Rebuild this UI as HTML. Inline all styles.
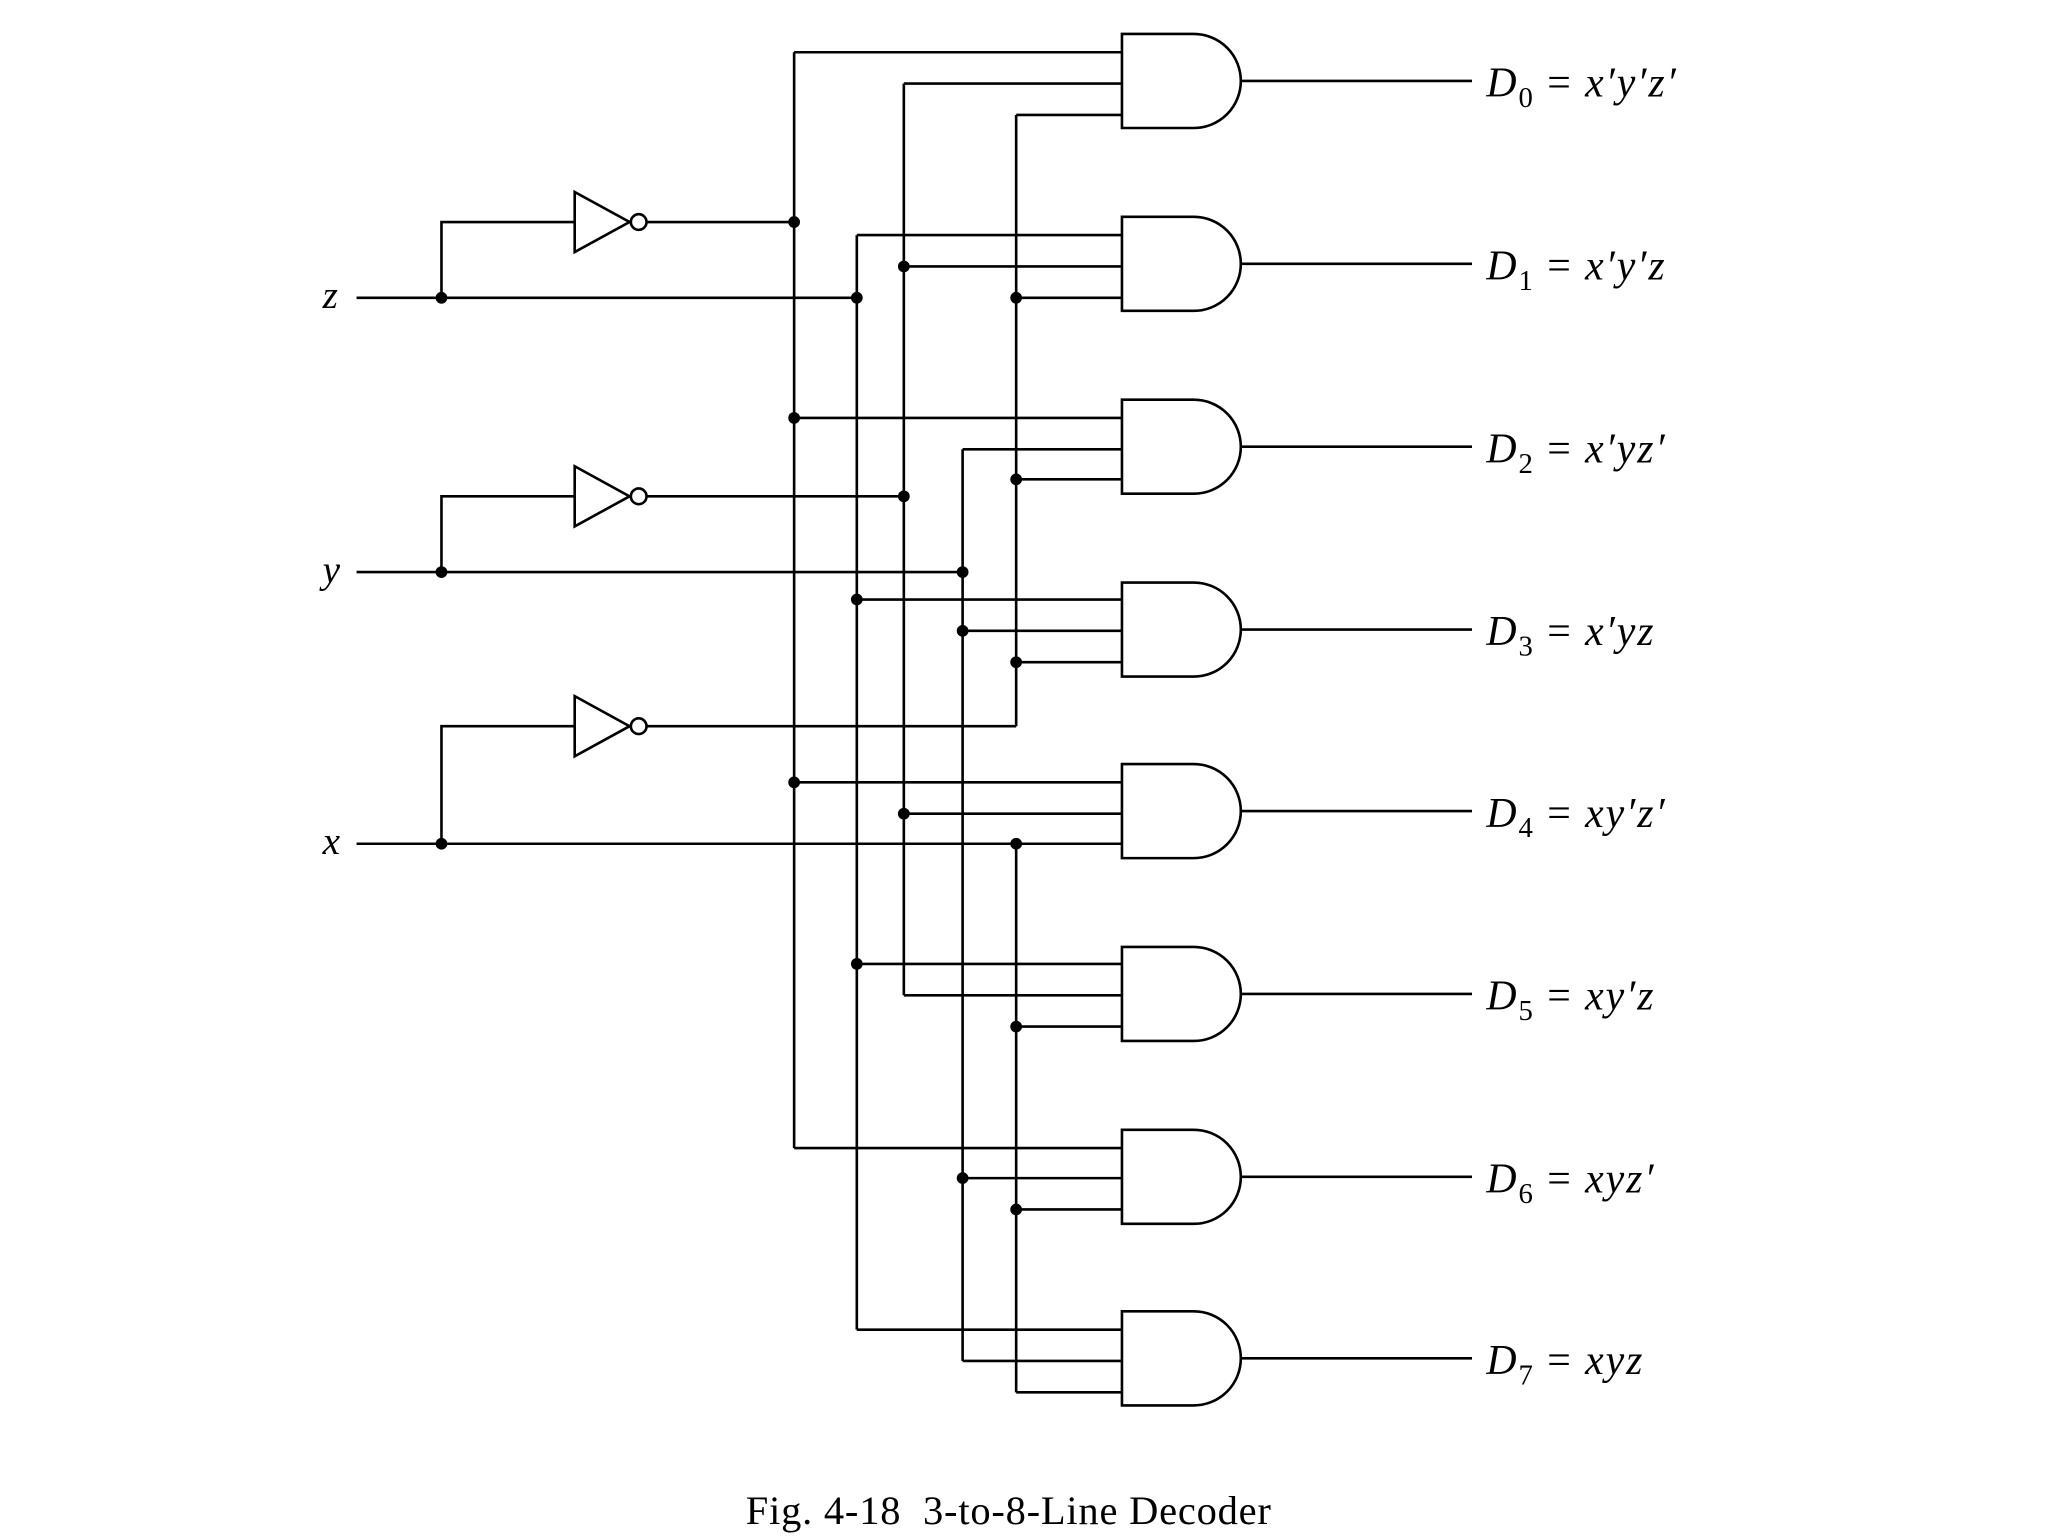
<!DOCTYPE html>
<html><head><style>html,body{margin:0;padding:0;background:#fff}svg{display:block}</style></head>
<body>
<svg width="2048" height="1536" viewBox="0 0 1568 1176" xmlns="http://www.w3.org/2000/svg">
<g stroke="#000" stroke-width="2" fill="none">
<path d="M273 228H656M273 438H737M273 646H778"/>
<path d="M338 228V170H440M338 438V380H440M338 646V556H440"/>
<path d="M440 147L482 170L440 193Z M440 357L482 380L440 403Z M440 533L482 556L440 579Z"/>
<circle cx="489" cy="170" r="6" fill="#fff"/>
<circle cx="489" cy="380" r="6" fill="#fff"/>
<circle cx="489" cy="556" r="6" fill="#fff"/>
<path d="M495 170H608M495 380H692M495 556H778"/>
<path d="M608 40V879M656 180V1018M692 64V762M737 344V1042M778 88V556M778 646V1066"/>
<path d="M608 40H859M692 64H859M778 88H859
M656 180H859M692 204H859M778 228H859
M608 320H859M737 344H859M778 367H859
M656 459H859M737 483H859M778 507H859
M608 599H859M692 623H859M778 646H859
M656 738H859M692 762H859M778 786H859
M608 879H859M737 902H859M778 926H859
M656 1018H859M737 1042H859M778 1066H859"/>
<g id="g">
<path d="M859 26H914A36 36 0 0 1 914 98H859Z"/>
</g>
<use href="#g" y="140"/><use href="#g" y="280"/><use href="#g" y="420"/>
<use href="#g" y="559"/><use href="#g" y="699"/><use href="#g" y="839"/><use href="#g" y="978"/>
<path d="M950 62H1127M950 202H1127M950 342H1127M950 482H1127M950 621H1127M950 761H1127M950 901H1127M950 1040H1127"/>
</g>
<g fill="#000">
<circle cx="338" cy="228" r="4.5"/><circle cx="338" cy="438" r="4.5"/><circle cx="338" cy="646" r="4.5"/>
<circle cx="608" cy="170" r="4.5"/><circle cx="608" cy="320" r="4.5"/><circle cx="608" cy="599" r="4.5"/>
<circle cx="656" cy="228" r="4.5"/><circle cx="656" cy="459" r="4.5"/><circle cx="656" cy="738" r="4.5"/>
<circle cx="692" cy="204" r="4.5"/><circle cx="692" cy="380" r="4.5"/><circle cx="692" cy="623" r="4.5"/>
<circle cx="737" cy="438" r="4.5"/><circle cx="737" cy="483" r="4.5"/><circle cx="737" cy="902" r="4.5"/>
<circle cx="778" cy="228" r="4.5"/><circle cx="778" cy="367" r="4.5"/><circle cx="778" cy="507" r="4.5"/>
<circle cx="778" cy="646" r="4.5"/><circle cx="778" cy="786" r="4.5"/><circle cx="778" cy="926" r="4.5"/>
</g>
<g font-family="Liberation Serif, serif" font-size="30" font-style="italic" fill="#000">
<text x="247" y="236">z</text><text x="247" y="446">y</text><text x="247" y="654">x</text>
</g>
<g font-family="Liberation Serif, serif" font-size="32" font-style="italic" fill="#000" letter-spacing="1.5">
<text x="1138" y="74">D<tspan font-size="22" font-style="normal" dy="8">0</tspan><tspan dy="-8" font-style="normal"> = </tspan>x′y′z′</text>
<text x="1138" y="214">D<tspan font-size="22" font-style="normal" dy="8">1</tspan><tspan dy="-8" font-style="normal"> = </tspan>x′y′z</text>
<text x="1138" y="354">D<tspan font-size="22" font-style="normal" dy="8">2</tspan><tspan dy="-8" font-style="normal"> = </tspan>x′yz′</text>
<text x="1138" y="494">D<tspan font-size="22" font-style="normal" dy="8">3</tspan><tspan dy="-8" font-style="normal"> = </tspan>x′yz</text>
<text x="1138" y="633">D<tspan font-size="22" font-style="normal" dy="8">4</tspan><tspan dy="-8" font-style="normal"> = </tspan>xy′z′</text>
<text x="1138" y="773">D<tspan font-size="22" font-style="normal" dy="8">5</tspan><tspan dy="-8" font-style="normal"> = </tspan>xy′z</text>
<text x="1138" y="913">D<tspan font-size="22" font-style="normal" dy="8">6</tspan><tspan dy="-8" font-style="normal"> = </tspan>xyz′</text>
<text x="1138" y="1052">D<tspan font-size="22" font-style="normal" dy="8">7</tspan><tspan dy="-8" font-style="normal"> = </tspan>xyz</text>
</g>
<text x="571" y="1167" font-family="Liberation Serif, serif" font-size="31" letter-spacing="0.6" fill="#000" xml:space="preserve">Fig. 4-18  3-to-8-Line Decoder</text>
</svg>
</body></html>
